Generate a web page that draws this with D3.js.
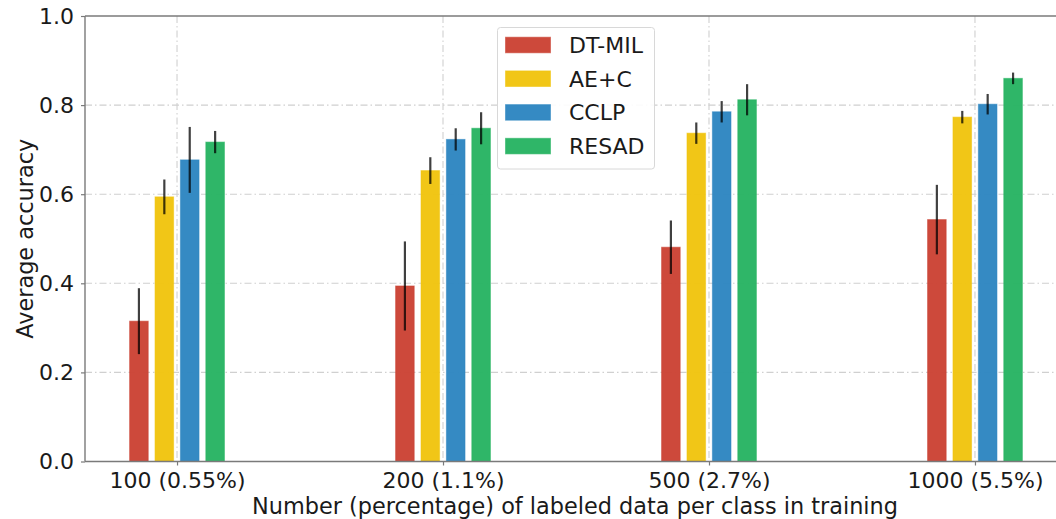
<!DOCTYPE html>
<html>
<head>
<meta charset="utf-8">
<script src="https://cdn.jsdelivr.net/npm/d3@7"></script>
<style>
  html, body { margin: 0; padding: 0; background: #fff; overflow: hidden; }
  svg { display: block; font-family: "DejaVu Sans", sans-serif; }
</style>
</head>
<body>
<svg id="chart" width="1056" height="519"></svg>
<script>
// Labeled-data budgets on the x axis
const categories = ["100 (0.55%)", "200 (1.1%)", "500 (2.7%)", "1000 (5.5%)"];
const methods = ["DT-MIL", "AE+C", "CCLP", "RESAD"];
const colors = ["#CB4335", "#F1C40F", "#2E86C1", "#28B463"];

// Mean accuracy per method (one array per method, one value per budget)
const dtMil = [0.315, 0.394, 0.481, 0.543];
const aeC   = [0.594, 0.653, 0.737, 0.773];
const cclp  = [0.677, 0.723, 0.785, 0.802];
const resad = [0.717, 0.748, 0.812, 0.860];

// Standard deviations for the error bars
const dtMilErr = [0.074, 0.100, 0.060, 0.078];
const aeCErr   = [0.039, 0.030, 0.024, 0.014];
const cclpErr  = [0.074, 0.025, 0.024, 0.023];
const resadErr = [0.025, 0.036, 0.035, 0.013];

const yTicks = [0.0, 0.2, 0.4, 0.6, 0.8, 1.0];

const means = [dtMil, aeC, cclp, resad];
const errs = [dtMilErr, aeCErr, cclpErr, resadErr];

const svg = d3.select("#chart");
const plotLeft = 85, plotRight = 1067, plotTop = 16, plotBottom = 461.5;
const fontSize = "22px";

const x = d3.scaleLinear().domain([-0.346, 3.346]).range([plotLeft, plotRight]);
const y = d3.scaleLinear().domain([0, 1]).range([plotBottom, plotTop]);

const barStep = 0.0955;   // spacing between bars in a group (category units)
const barWidth = 0.070;

const gridColor = "#d0d0d0";
const gridDash = "7,3,1.5,3";

// Horizontal grid
svg.append("g").selectAll("line")
  .data(yTicks.filter(t => t > 0 && t < 1))
  .join("line")
  .attr("x1", plotLeft).attr("x2", plotRight)
  .attr("y1", d => y(d)).attr("y2", d => y(d))
  .attr("stroke", gridColor).attr("stroke-width", 1.1)
  .attr("stroke-dasharray", gridDash);

// Vertical grid at category positions
svg.append("g").selectAll("line")
  .data(categories.map((c, i) => i))
  .join("line")
  .attr("x1", d => x(d)).attr("x2", d => x(d))
  .attr("y1", plotTop).attr("y2", plotBottom)
  .attr("stroke", gridColor).attr("stroke-width", 1.1)
  .attr("stroke-dasharray", gridDash);

// Bars
const barData = [];
methods.forEach((m, mi) => {
  categories.forEach((c, ci) => {
    barData.push({ mi, ci, v: means[mi][ci], e: errs[mi][ci],
                   cx: ci + (mi - 1.5) * barStep });
  });
});

svg.append("g").selectAll("rect")
  .data(barData)
  .join("rect")
  .attr("x", d => x(d.cx - barWidth / 2))
  .attr("width", d => x(d.cx + barWidth / 2) - x(d.cx - barWidth / 2))
  .attr("y", d => y(d.v))
  .attr("height", d => y(0) - y(d.v))
  .attr("fill", d => colors[d.mi])
  .attr("fill-opacity", 0.97)
  .attr("stroke", d => colors[d.mi])
  .attr("stroke-opacity", 0.55)
  .attr("stroke-width", 1);

// Error bars
svg.append("g").selectAll("line")
  .data(barData)
  .join("line")
  .attr("x1", d => x(d.cx)).attr("x2", d => x(d.cx))
  .attr("y1", d => y(d.v + d.e)).attr("y2", d => y(d.v - d.e))
  .attr("stroke", "#000").attr("stroke-opacity", 0.75)
  .attr("stroke-width", 2.2);

// Spines
const spine = "#7a7a7a";
svg.append("line").attr("x1", plotLeft).attr("x2", plotLeft).attr("y1", plotTop).attr("y2", plotBottom)
  .attr("stroke", spine).attr("stroke-width", 1.4);
svg.append("line").attr("x1", plotLeft).attr("x2", plotRight).attr("y1", plotTop).attr("y2", plotTop)
  .attr("stroke", spine).attr("stroke-width", 1.4);
svg.append("line").attr("x1", plotLeft).attr("x2", plotRight).attr("y1", plotBottom).attr("y2", plotBottom)
  .attr("stroke", spine).attr("stroke-width", 1.4);

// Y axis
const yAxis = svg.append("g")
  .attr("transform", `translate(${plotLeft},0)`)
  .call(d3.axisLeft(y).tickValues(yTicks).tickFormat(d3.format(".1f")).tickSize(4).tickPadding(7));
yAxis.select(".domain").remove();
yAxis.selectAll(".tick line").attr("stroke", spine).attr("stroke-width", 1.2);
yAxis.selectAll(".tick text").attr("fill", "#1a1a1a").style("font-size", fontSize)
  .style("font-family", "DejaVu Sans");

// X axis
const xAxis = svg.append("g")
  .attr("transform", `translate(0,${plotBottom})`)
  .call(d3.axisBottom(x).tickValues(categories.map((c, i) => i))
    .tickFormat(i => categories[i]).tickSize(4).tickPadding(7));
xAxis.select(".domain").remove();
xAxis.selectAll(".tick line").attr("stroke", spine).attr("stroke-width", 1.2);
xAxis.selectAll(".tick text").attr("fill", "#1a1a1a").style("font-size", fontSize)
  .style("font-family", "DejaVu Sans");

// Axis titles
svg.append("text")
  .attr("x", (plotLeft + plotRight) / 2 - 1).attr("y", 514)
  .attr("text-anchor", "middle")
  .attr("fill", "#1a1a1a").style("font-size", "22.4px")
  .text("Number (percentage) of labeled data per class in training");

svg.append("text")
  .attr("transform", `translate(33,${(plotTop + plotBottom) / 2}) rotate(-90)`)
  .attr("text-anchor", "middle")
  .attr("fill", "#1a1a1a").style("font-size", "22.4px")
  .text("Average accuracy");

// Legend
const legend = svg.append("g");
legend.append("rect")
  .attr("x", 497.5).attr("y", 27.5).attr("width", 157).attr("height", 141.5)
  .attr("rx", 3).attr("fill", "#fff").attr("fill-opacity", 0.9)
  .attr("stroke", "#d8d8d8").attr("stroke-width", 1);
methods.forEach((m, i) => {
  const cy = 45 + i * 33.7;
  legend.append("rect")
    .attr("x", 505.5).attr("y", cy - 7.8).attr("width", 45).attr("height", 15.6)
    .attr("fill", colors[i]).attr("fill-opacity", 0.97)
    .attr("stroke", colors[i]).attr("stroke-opacity", 0.55);
  legend.append("text")
    .attr("x", 569).attr("y", cy)
    .attr("dy", "0.36em")
    .attr("fill", "#1a1a1a").style("font-size", fontSize)
    .text(m);
});
</script>
</body>
</html>
